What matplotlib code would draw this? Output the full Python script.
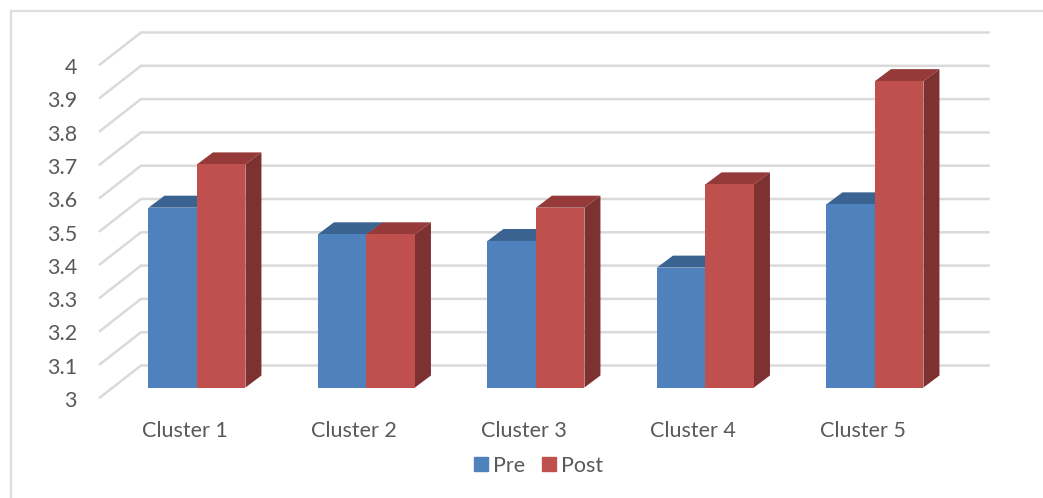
import numpy as np
import matplotlib
matplotlib.use("Agg")
import matplotlib.pyplot as plt
from matplotlib.lines import Line2D
from matplotlib.patches import Patch
from matplotlib.transforms import ScaledTranslation

# Values
clusters = ["Cluster 1", "Cluster 2", "Cluster 3", "Cluster 4", "Cluster 5"]
pre = [3.54, 3.46, 3.44, 3.36, 3.55]
post = [3.67, 3.46, 3.54, 3.61, 3.92]
y_ticks = [3, 3.1, 3.2, 3.3, 3.4, 3.5, 3.6, 3.7, 3.8, 3.9, 4]
y_labels = ["3", "3.1", "3.2", "3.3", "3.4", "3.5", "3.6", "3.7", "3.8", "3.9", "4"]

W, H = 1043, 498
GREY = "#DADADA"
TEXT = "#595959"

plt.rcParams["font.family"] = ["Lato", "DejaVu Sans"]
FS = 15.5

fig = plt.figure(figsize=(W / 100, H / 100), dpi=100)
# front edge of the floor, in pixels: x 100-947.5, y 64.5-397
ax = fig.add_axes([100 / W, 1 - 397.5 / H, 847.5 / W, 333 / H])
px_x = 5 / 847.5   # data units per pixel
px_y = 1 / 333

# outer frame
fig.add_artist(Line2D([11 / W, 11 / W], [0, 1 - 11 / H], color="#DEDEDE", lw=1.6))
fig.add_artist(Line2D([11 / W, 1], [1 - 11 / H, 1 - 11 / H], color="#DEDEDE", lw=1.6))

# walls: grid lines on the back wall plus the diagonal on the side wall
wall_dx, wall_dy = 41 * px_x, 32 * px_y
for v in y_ticks:
    ax.plot([-0.5, -0.5 + wall_dx, 4.5 + wall_dx], [v, v + wall_dy, v + wall_dy],
            color=GREY, lw=1.8, clip_on=False, zorder=1, solid_joinstyle="miter")

# bars sit a little behind the front edge of the floor
bar_dx, bar_dy = 12.2 * px_x, 10 * px_y
depth_x, depth_y = 16 * px_x, 12 * px_y
bar_w = 48.5 * px_x


def draw_series(vals, side, front, top, shade, z):
    x = np.arange(len(vals)) + bar_dx + side * bar_w / 2
    b = 3 + bar_dy
    ax.bar(x, np.array(vals) - 3, width=bar_w, bottom=b, color=front, zorder=z + 1, clip_on=False)
    for xi, v in zip(x, vals):
        l, r = xi - bar_w / 2, xi + bar_w / 2
        t = v + bar_dy
        ax.fill([l, r, r + depth_x, l + depth_x], [t, t, t + depth_y, t + depth_y],
                color=top, lw=0, zorder=z, clip_on=False)
        ax.fill([r, r + depth_x, r + depth_x, r], [b, b + depth_y, t + depth_y, t],
                color=shade, lw=0, zorder=z, clip_on=False)


draw_series(pre, -1, "#4F81BD", "#3A6391", "#2F5077", 3)
draw_series(post, 1, "#C0504D", "#953A38", "#7D3130", 5)

ax.set_xlim(-0.5, 4.5)
ax.set_ylim(3, 4)
ax.set_xticks(range(len(clusters)))
ax.set_xticklabels(clusters, fontsize=FS, color=TEXT)
ax.set_yticks(y_ticks)
ax.set_yticklabels(y_labels, fontsize=FS, color=TEXT)
ax.tick_params(axis="x", length=0, pad=17)
ax.tick_params(axis="y", length=0, pad=16.5)
# labels sit a touch lower than the ticks in the original
nudge = ScaledTranslation(0, -1.5 / 100, fig.dpi_scale_trans)
for lab in ax.get_yticklabels():
    lab.set_transform(lab.get_transform() + nudge)
for s in ax.spines.values():
    s.set_visible(False)
ax.patch.set_visible(False)

handles = [Patch(color="#4F81BD", label="Pre"), Patch(color="#C0504D", label="Post")]
fig.legend(handles=handles, loc="center", bbox_to_anchor=(538.5 / W, 1 - 465.5 / H),
           frameon=False, ncol=2, fontsize=FS, labelcolor=TEXT,
           handlelength=0.65, handleheight=0.65, handletextpad=0.25, columnspacing=0.75)

fig.savefig("out.png", dpi=100)
